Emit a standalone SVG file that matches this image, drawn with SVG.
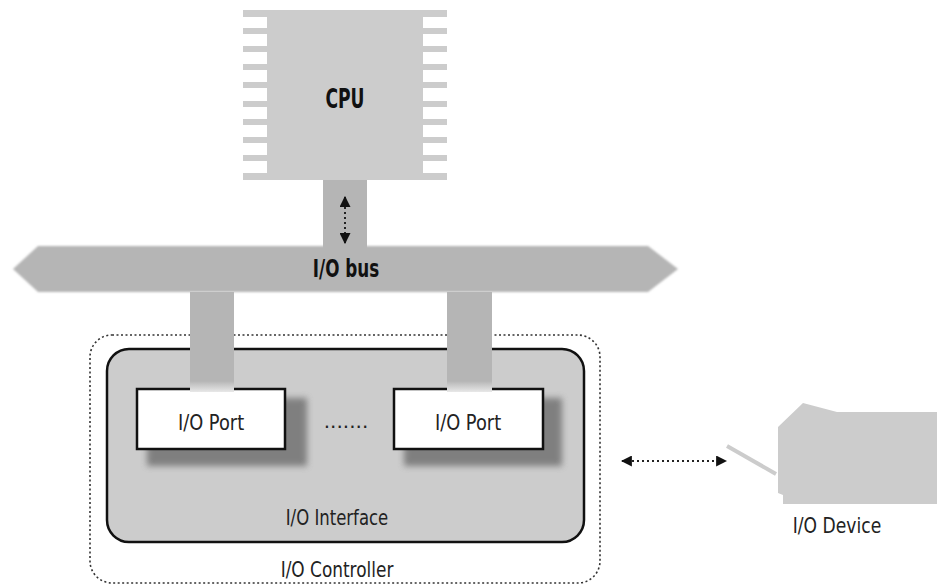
<svg xmlns="http://www.w3.org/2000/svg" width="937" height="586" viewBox="0 0 937 586">
<style>
  .lbl { font-family: "DejaVu Sans", "Liberation Sans", sans-serif; fill: #222; text-anchor: middle; }
  .bold { font-weight: bold; fill: #111; }
  .chip { fill: #cccccc; }
  .link { fill: #b5b5b5; }
  .dots { stroke: #222; stroke-width: 2; stroke-dasharray: 2 3; fill: none; }
  .port { fill: #ffffff; stroke: #111; stroke-width: 2.5; }
</style>
<defs>
  <filter id="blur" x="-20%" y="-20%" width="140%" height="140%">
    <feGaussianBlur stdDeviation="3"/>
  </filter>
  <filter id="soft" x="-5%" y="-20%" width="110%" height="140%">
    <feGaussianBlur stdDeviation="1.2"/>
  </filter>
  <linearGradient id="fade" x1="0" y1="0" x2="0" y2="1">
    <stop offset="0" stop-color="#b5b5b5"/>
    <stop offset="1" stop-color="#e8e8e8"/>
  </linearGradient>
  <marker id="ah" viewBox="0 0 10 10" refX="9" refY="5" markerWidth="11" markerHeight="11" markerUnits="userSpaceOnUse" orient="auto-start-reverse">
    <path d="M0,0 L10,5 L0,10 Z" fill="#111"/>
  </marker>
</defs>

<rect width="937" height="586" fill="#ffffff"/>

<g id="cpu">
  <rect class="chip" x="267" y="10" width="156" height="170"/>
  <g class="chip">
    <rect x="243" y="10" width="204" height="7"/>
    <rect x="243" y="28" width="204" height="6"/>
    <rect x="243" y="46" width="204" height="6"/>
    <rect x="243" y="64" width="204" height="6"/>
    <rect x="243" y="82" width="204" height="6"/>
    <rect x="243" y="101" width="204" height="6"/>
    <rect x="243" y="119" width="204" height="6"/>
    <rect x="243" y="137" width="204" height="6"/>
    <rect x="243" y="155" width="204" height="6"/>
    <rect x="243" y="173" width="204" height="7"/>
  </g>
  <text class="lbl bold" transform="translate(345,108) scale(0.66,1)" font-size="26">CPU</text>
</g>

<g id="io-controller">
  <rect x="90" y="335" width="510" height="248" rx="22" ry="22" fill="none" stroke="#333" stroke-width="1.6" stroke-dasharray="2 2.5"/>
  <text class="lbl" transform="translate(337,577) scale(0.77,1)" font-size="22">I/O Controller</text>
</g>

<g id="io-interface">
  <rect x="107" y="349" width="477" height="193" rx="22" ry="22" fill="#cccccc" stroke="#111" stroke-width="2.5"/>
  <text class="lbl" transform="translate(337,525) scale(0.75,1)" font-size="22">I/O Interface</text>
</g>

<g id="io-port-1">
  <rect x="147" y="398" width="160" height="68" fill="#666" opacity="0.75" filter="url(#blur)"/>
  <rect class="port" x="137" y="389" width="148" height="60"/>
  <text class="lbl" transform="translate(211,430) scale(0.81,1)" font-size="22">I/O Port</text>
</g>

<g id="io-port-2">
  <rect x="404" y="398" width="158" height="68" fill="#666" opacity="0.75" filter="url(#blur)"/>
  <rect class="port" x="394" y="389" width="149" height="60"/>
  <text class="lbl" transform="translate(468,430) scale(0.81,1)" font-size="22">I/O Port</text>
</g>

<g id="ellipsis">
  <text class="lbl" x="346" y="428" font-size="20">.......</text>
</g>

<g id="connectors">
  <rect class="link" x="323" y="180" width="44" height="68"/>
  <rect class="link" x="190" y="292" width="44" height="90"/>
  <rect x="190" y="381" width="44" height="11" fill="url(#fade)"/>
  <rect class="link" x="447" y="292" width="45" height="90"/>
  <rect x="447" y="381" width="45" height="11" fill="url(#fade)"/>
</g>

<g id="io-bus">
  <polygon class="link" filter="url(#soft)" points="13,269 38,246 648,246 678,269 648,292 38,292"/>
  <text class="lbl bold" transform="translate(346,277) scale(0.7,1)" font-size="24">I/O bus</text>
</g>

<g id="io-device">
  <line x1="727" y1="446" x2="776" y2="474" stroke="#cccccc" stroke-width="4"/>
  <polygon class="chip" points="803,403 837,412 937,412 937,504 783,504 783,495 778,493 778,427"/>
  <text class="lbl" transform="translate(837,533) scale(0.78,1)" font-size="22">I/O Device</text>
</g>

<g id="arrows">
  <line class="dots" x1="345" y1="197" x2="345" y2="243" marker-start="url(#ah)" marker-end="url(#ah)"/>
  <line class="dots" x1="622" y1="461" x2="726" y2="461" marker-start="url(#ah)" marker-end="url(#ah)"/>
</g>
</svg>
